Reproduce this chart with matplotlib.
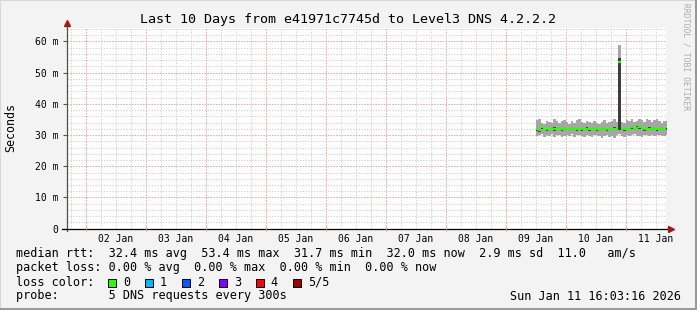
import numpy as np
import matplotlib
matplotlib.use("Agg")
import matplotlib.pyplot as plt
from matplotlib.patches import Rectangle
from matplotlib.lines import Line2D

# ---------------- data ----------------
title = "Last 10 Days from e41971c7745d to Level3 DNS 4.2.2.2"
day_labels = ["02 Jan", "03 Jan", "04 Jan", "05 Jan", "06 Jan",
              "07 Jan", "08 Jan", "09 Jan", "10 Jan", "11 Jan"]
y_tick_values = [0, 10, 20, 30, 40, 50, 60]
y_tick_labels = ["0", "10 m", "20 m", "30 m", "40 m", "50 m", "60 m"]

data_start_day = 8.5          # Jan 09 12:00 (days since Jan 01 00:00)
step_hours = 1.0

median_ms = [31.8, 31.6, 32.6, 31.9, 31.8, 31.7,
             31.9, 32.0, 31.7, 32.2, 31.8, 31.9,
             31.7, 31.6, 32.0, 31.9, 31.8, 31.7,
             31.8, 31.9, 32.1, 31.8, 31.7, 31.9,
             31.8, 31.6, 31.9, 32.0, 31.8, 31.7,
             31.9, 32.1, 32.0, 53.4, 31.9, 31.8,
             31.7, 32.0, 32.5, 31.9, 32.4, 32.6,
             31.9, 31.8, 32.0, 32.1, 31.9, 32.0,
             31.8, 32.0, 31.9, 32.0, 32.0]
smoke_hi = [34.8, 35.2, 34.0, 33.6, 34.5, 34.2,
            33.8, 35.0, 34.6, 33.9, 34.4, 34.9,
            34.1, 33.7, 34.5, 34.0, 34.8, 35.3,
            34.2, 33.9, 34.6, 34.1, 33.8, 34.4,
            34.0, 33.6, 34.3, 34.7, 33.9, 34.2,
            34.5, 35.0, 34.1, 58.7, 34.3, 33.8,
            34.9, 34.4, 35.0, 34.2, 34.6, 35.1,
            34.8, 34.3, 35.0, 34.7, 34.2, 34.9,
            35.2, 34.5, 34.0, 34.6, 34.4]
smoke_lo = [29.6, 29.9, 30.3, 29.4, 30.0, 29.7,
            30.2, 29.5, 29.9, 30.1, 29.3, 29.8,
            30.0, 29.6, 30.2, 29.4, 29.9, 30.1,
            29.7, 29.5, 30.0, 29.8, 29.3, 29.9,
            30.1, 29.6, 29.2, 29.8, 30.0, 29.5,
            29.7, 29.1, 29.9, 30.4, 29.8, 29.4,
            30.0, 29.6, 29.9, 30.2, 29.7, 29.8,
            29.5, 30.0, 29.9, 29.6, 30.1, 29.7,
            29.9, 30.0, 29.6, 29.8, 30.0]
inner_lo = [31.3, 31.1, 31.9, 31.5, 31.4, 31.3,
            31.5, 31.4, 31.3, 31.8, 31.4, 31.5,
            31.2, 31.2, 31.6, 31.5, 31.4, 31.3,
            31.4, 31.5, 31.7, 31.4, 31.2, 31.5,
            31.4, 31.2, 31.5, 31.6, 31.4, 31.3,
            31.5, 31.7, 31.6, 31.6, 31.5, 31.4,
            31.3, 31.6, 32.0, 31.5, 31.9, 32.1,
            31.5, 31.4, 31.6, 31.7, 31.5, 31.6,
            31.4, 31.6, 31.5, 31.6, 31.6]
inner_hi = [32.3, 32.0, 33.0, 32.3, 32.2, 32.1,
            32.3, 32.6, 32.1, 32.6, 32.2, 32.3,
            32.1, 32.0, 32.4, 32.3, 32.2, 32.1,
            32.2, 32.3, 32.6, 32.2, 32.1, 32.3,
            32.2, 32.0, 32.3, 32.4, 32.2, 32.1,
            32.3, 32.5, 32.4, 54.6, 32.3, 32.2,
            32.1, 32.4, 32.9, 32.3, 32.8, 33.0,
            32.3, 32.2, 32.4, 32.5, 32.3, 32.4,
            32.2, 32.4, 32.3, 32.4, 32.4]

legend_line1 = "median rtt:  32.4 ms avg  53.4 ms max  31.7 ms min  32.0 ms now  2.9 ms sd  11.0   am/s"
legend_line2 = "packet loss: 0.00 % avg  0.00 % max  0.00 % min  0.00 % now"
legend_line4 = "probe:       5 DNS requests every 300s"
timestamp = "Sun Jan 11 16:03:16 2026"
loss_labels = ["0", "1", "2", "3", "4", "5/5"]
loss_colors = ["#26ff00", "#00b8ff", "#0059ff", "#7e00ff", "#ff0000", "#a10000"]

# ---------------- figure ----------------
W, H = 697, 310
fig = plt.figure(figsize=(W / 100, H / 100), dpi=100)
fig.patch.set_facecolor("#f3f3f3")
mono = "DejaVu Sans Mono"

def fx(px):
    return px / W

def fy(py):
    return 1 - py / H

# 3D-ish border
fig.patches.append(Rectangle((0, 0), 1, 1, transform=fig.transFigure,
                             fill=False, edgecolor="#d8d8d8", lw=1.5))
fig.add_artist(Line2D([fx(0), fx(W)], [fy(H - 1), fy(H - 1)], color="#9a9a9a", lw=2.2,
                      transform=fig.transFigure))
fig.add_artist(Line2D([fx(W - 1), fx(W - 1)], [fy(0), fy(H)], color="#9a9a9a", lw=2.2,
                      transform=fig.transFigure))

x0, x1 = 67, 666
ytop, ybot = 28, 228.7
ax = fig.add_axes([fx(x0), fy(ybot), (x1 - x0) / W, (ybot - ytop) / H])
ax.set_facecolor("white")
xmin, xmax = 0.688, 10.672
ax.set_xlim(xmin, xmax)
ax.set_ylim(0, 64.3)
for s in ax.spines.values():
    s.set_visible(False)

# grid (light 1px lines, rrdtool-like dotted tone)
gkw = dict(lw=0.72, ls=(0, (1.4, 1.4)), antialiased=True)
for d in np.arange(np.ceil(xmin * 4) / 4, xmax, 0.25):
    ax.axvline(d, color="#d4d4d4", zorder=1, **gkw)
for v in np.arange(2, 64.3, 2):
    ax.axhline(v, color="#d4d4d4", zorder=1, **gkw)
for d in range(1, 11):
    ax.axvline(d, color="#f0a8a8", zorder=1.5, **gkw)
for v in y_tick_values[1:]:
    ax.axhline(v, color="#f0a8a8", zorder=1.5, **gkw)

# data
n = len(median_ms)
t = data_start_day + np.arange(n + 1) * step_hours / 24.0
lo_e = np.append(smoke_lo, smoke_lo[-1])
hi_e = np.append(smoke_hi, smoke_hi[-1])
ilo_e = np.append(inner_lo, inner_lo[-1])
ihi_e = np.append(inner_hi, inner_hi[-1])
ax.fill_between(t, lo_e, hi_e, step="post", color="#a6a6a6", lw=0, zorder=2)
ax.fill_between(t, ilo_e, ihi_e, step="post", color="#3c3c3c", lw=0, zorder=3)
ax.hlines(median_ms, t[:-1], t[1:], color=loss_colors[0], lw=1.6, zorder=4)

# ticks
label_pos = [1.5 + i for i in range(len(day_labels))]
ax.set_xticks(label_pos)
ax.set_xticklabels(day_labels, fontsize=7, family=mono)
ax.tick_params(axis="x", length=0, pad=4)
ax.set_yticks(y_tick_values)
ax.set_yticklabels(y_tick_labels, fontsize=7, family=mono)
ax.tick_params(axis="y", length=3, width=0.8, color="#555555", pad=3, direction="out")

# axes lines with arrows
ax.plot([0, 0], [-0.01, 1.02], transform=ax.transAxes, color="#505050", lw=0.9,
        clip_on=False, zorder=7)
ax.plot([0], [1.025], marker="^", ms=4.5, color="#a01818", transform=ax.transAxes,
        clip_on=False, zorder=8)
ax.plot([-0.008, 1.005], [0, 0], transform=ax.transAxes, color="#000000", lw=0.9,
        clip_on=False, zorder=7)
ax.plot([1.009], [0], marker=">", ms=4.5, color="#a01818", transform=ax.transAxes,
        clip_on=False, zorder=8)
ax.plot(list(range(1, 11)), [0] * 10, ls="none", marker="|", ms=3.5, mew=0.8,
        color="#e08a8a", clip_on=False, zorder=7)

# texts
fig.text(fx(348.5), fy(19), title, ha="center", va="center", fontsize=9.6, family=mono)
fig.text(fx(10.5), fy(128), "Seconds", rotation=90, ha="center", va="center",
         fontsize=8.4, family=mono)
fig.text(fx(686), fy(57), "RRDTOOL / TOBI OETIKER", rotation=270, ha="center",
         va="center", fontsize=5.8, family=mono, color="#ababab")

fs = 8.5
fig.text(fx(16), fy(254), legend_line1, ha="left", va="center", fontsize=fs, family=mono)
fig.text(fx(16), fy(268), legend_line2, ha="left", va="center", fontsize=fs, family=mono)
fig.text(fx(16), fy(282), "loss color:", ha="left", va="center", fontsize=fs, family=mono)
for i, (lab, col) in enumerate(zip(loss_labels, loss_colors)):
    bx = 108.3 + i * 37
    fig.patches.append(Rectangle((fx(bx), fy(287)), 8 / W, 8 / H,
                                 transform=fig.transFigure, facecolor=col,
                                 edgecolor="black", lw=0.7))
    fig.text(fx(bx + 14.5), fy(282), lab, ha="left", va="center", fontsize=fs, family=mono)
fig.text(fx(16), fy(296), legend_line4, ha="left", va="center", fontsize=fs, family=mono)
fig.text(fx(681), fy(296), timestamp, ha="right", va="center", fontsize=fs, family=mono)

fig.savefig("out.png", dpi=100, facecolor=fig.get_facecolor())
